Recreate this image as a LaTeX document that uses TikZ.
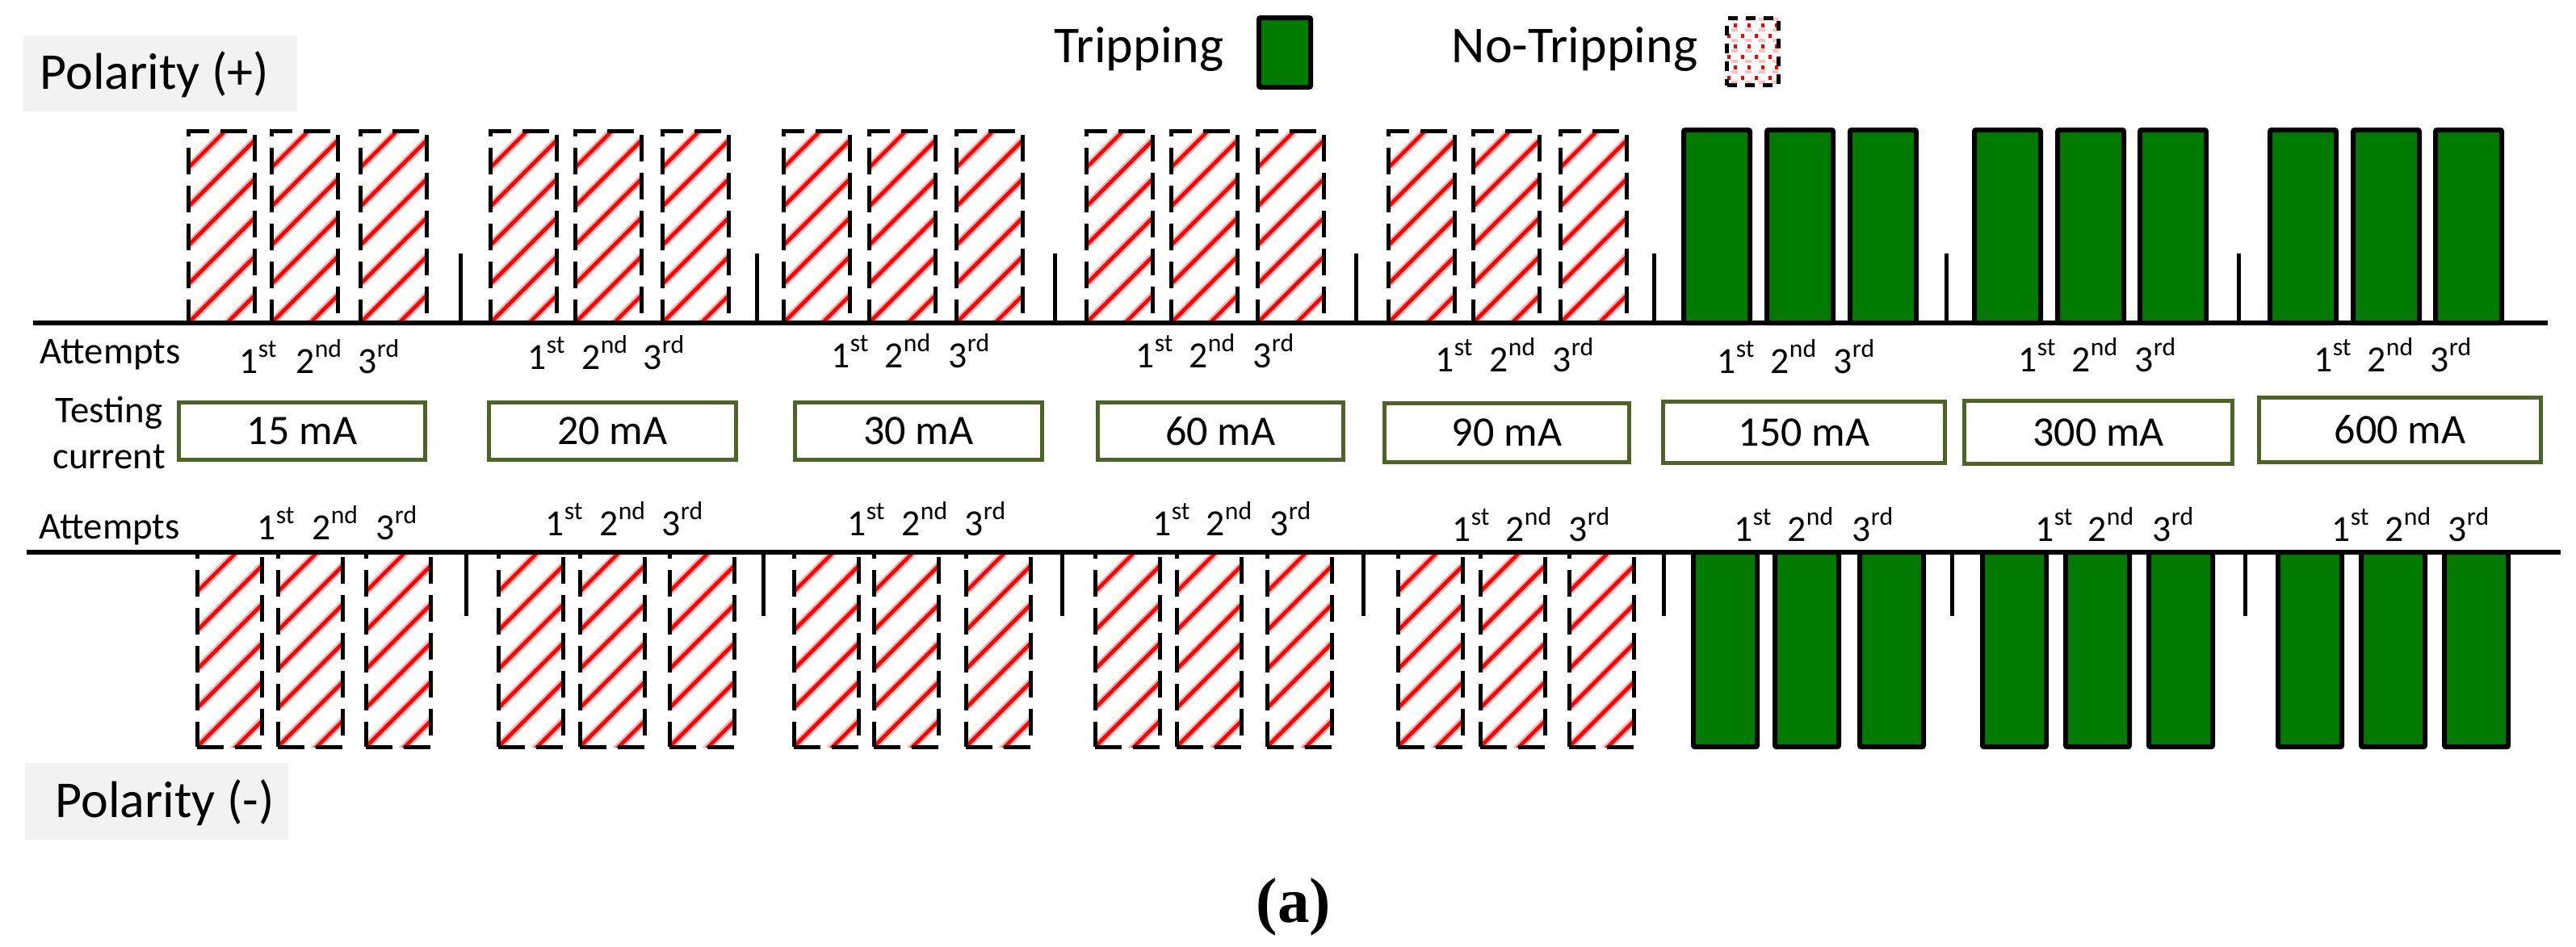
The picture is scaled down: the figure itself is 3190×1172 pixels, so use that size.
\documentclass[tikz,border=0pt]{standalone}
\usepackage{fontspec}
\setmainfont{Carlito}
\newfontfamily\capfont{Liberation Serif}
\definecolor{tripgreen}{RGB}{0,122,0}
\definecolor{boxolive}{RGB}{79,98,40}
\definecolor{labelgray}{RGB}{242,242,242}
\newcommand\ordsup[1]{\raisebox{0.42em}{\fontsize{9}{10}\selectfont #1}}
\tikzset{
  hatchbar/.style={anchor=north west, rectangle, inner sep=0pt, outer sep=0pt,
    fill=white, draw=black, line width=0.05cm, dash pattern=on 0.33cm off 0.14cm,
    path picture={\foreach \k in {-2,...,6}{
      \draw[red!28, solid, line width=0.095cm]
      ([yshift=\k*0.48cm]path picture bounding box.south west) -- ++(3cm,3cm);
      \draw[red, solid, line width=0.045cm]
      ([yshift=\k*0.48cm]path picture bounding box.south west) -- ++(3cm,3cm);}}},
  greenbar/.style={anchor=north west, rectangle, inner sep=0pt, outer sep=0pt,
    fill=tripgreen, draw=black, line width=0.06cm, rounded corners=0.02cm},
  curbox/.style={rectangle, draw=boxolive, line width=0.05cm, fill=white, inner sep=0pt,
    font=\fontsize{14.8}{17}\selectfont},
  ordlab/.style={anchor=base west, inner sep=0pt, font=\fontsize{13}{15}\selectfont},
  smalllab/.style={anchor=base west, inner sep=0pt, font=\fontsize{13.3}{16}\selectfont},
  biglab/.style={anchor=base west, inner sep=0pt, font=\fontsize{18.2}{22}\selectfont},
  axisline/.style={line width=0.06cm},
  tickline/.style={line width=0.05cm},
}
\begin{document}
\begin{tikzpicture}[x=0.01cm,y=-0.01cm]
\useasboundingbox (0,0) rectangle (3190,1172);
\fill[white] (0,0) rectangle (3190,1172);

% ---------- legend ----------
\node[biglab] (trip) at (1305,77) {Tripping};
\node[greenbar, minimum width=0.64cm, minimum height=0.86cm] (legtrip) at (1559,22) {};
\node[biglab] (notrip) at (1797,77) {No-Tripping};
\node[anchor=north west, rectangle, inner sep=0pt, fill=white, draw=black, line width=0.05cm,
  dash pattern=on 0.12cm off 0.1cm, minimum width=0.64cm, minimum height=0.83cm,
  path picture={
    \foreach \i in {0,...,3}{\foreach \j in {0,...,6}{
      \pgfmathsetmacro{\off}{mod(\j,2)*0.08}
      \fill[red!25] ([xshift=\i*0.17cm+0.05cm, yshift=\j*0.13cm+0.02cm]path picture bounding box.south west) rectangle ++(0.08cm,0.04cm);
      \fill[red] ([xshift=\i*0.17cm+\off cm, yshift=\j*0.13cm+0.07cm]path picture bounding box.south west) rectangle ++(0.045cm,0.045cm);
    }}}] (legnotrip) at (2136,20) {};

% ---------- polarity labels ----------
\fill[labelgray] (29,44) rectangle (368,138);
\node[biglab] (polplus) at (49,110) {Polarity (+)};
\fill[labelgray] (31,945) rectangle (357,1040);
\node[biglab] (polminus) at (68,1012) {Polarity (-)};

% ---------- top bars ----------
\foreach \g/\a/\b/\c in {1/233/336/446,2/607/712/820,3/970/1076/1184,4/1345/1450/1557,5/1719/1824/1932}{
  \node[hatchbar, minimum width=0.82cm, minimum height=2.38cm] (tp-\g-1) at (\a,162) {};
  \node[hatchbar, minimum width=0.82cm, minimum height=2.38cm] (tp-\g-2) at (\b,162) {};
  \node[hatchbar, minimum width=0.82cm, minimum height=2.38cm] (tp-\g-3) at (\c,162) {};
}
\foreach \g/\a/\b/\c in {6/2085/2188/2291,7/2445/2548/2650,8/2811/2914/3016}{
  \node[greenbar, minimum width=0.82cm, minimum height=2.39cm] (tp-\g-1) at (\a,161) {};
  \node[greenbar, minimum width=0.82cm, minimum height=2.39cm] (tp-\g-2) at (\b,161) {};
  \node[greenbar, minimum width=0.82cm, minimum height=2.39cm] (tp-\g-3) at (\c,161) {};
}
\foreach \t in {570,937,1306,1679,2048,2410,2772}{
  \draw[tickline] (\t,314) -- (\t,400);
}
\draw[axisline] (41,400) -- (3155,400);

% ---------- bottom bars ----------
\foreach \g/\a/\b/\c in {1/244/344/453,2/617/718/829,3/983/1082/1196,4/1356/1457/1569,5/1731/1833/1943}{
  \node[hatchbar, minimum width=0.80cm, minimum height=2.41cm] (bt-\g-1) at (\a,684) {};
  \node[hatchbar, minimum width=0.80cm, minimum height=2.41cm] (bt-\g-2) at (\b,684) {};
  \node[hatchbar, minimum width=0.80cm, minimum height=2.41cm] (bt-\g-3) at (\c,684) {};
}
\foreach \g/\a/\b/\c in {6/2097/2198/2303,7/2455/2558/2661,8/2821/2924/3027}{
  \node[greenbar, minimum width=0.79cm, minimum height=2.41cm] (bt-\g-1) at (\a,684) {};
  \node[greenbar, minimum width=0.79cm, minimum height=2.41cm] (bt-\g-2) at (\b,684) {};
  \node[greenbar, minimum width=0.79cm, minimum height=2.41cm] (bt-\g-3) at (\c,684) {};
}
\foreach \t in {577,945,1315,1688,2060,2417,2780}{
  \draw[tickline] (\t,684) -- (\t,763);
}
\draw[axisline] (33,684) -- (3171,684);

% ---------- attempts labels ----------
\node[smalllab] (atttop) at (49,450) {Attempts};
\node[smalllab] (attbot) at (48,667) {Attempts};
\foreach \g/\a/\b/\c/\y in {1/296/366/443/462,2/653/720/796/457,3/1029/1095/1174/455,4/1406/1472/1551/455,5/1777/1844/1922/460,6/2126/2192/2270/462,7/2499/2565/2643/460,8/2865/2931/3009/460}{
  \node[ordlab] (ot-\g-1) at (\a,\y) {1\ordsup{st}};
  \node[ordlab] (ot-\g-2) at (\b,\y) {2\ordsup{nd}};
  \node[ordlab] (ot-\g-3) at (\c,\y) {3\ordsup{rd}};
}
\foreach \g/\a/\b/\c/\y in {1/318/386/465/668,2/675/742/819/663,3/1049/1116/1194/663,4/1427/1493/1572/663,5/1798/1864/1942/670,6/2147/2213/2293/670,7/2520/2585/2665/670,8/2887/2953/3031/670}{
  \node[ordlab] (ob-\g-1) at (\a,\y) {1\ordsup{st}};
  \node[ordlab] (ob-\g-2) at (\b,\y) {2\ordsup{nd}};
  \node[ordlab] (ob-\g-3) at (\c,\y) {3\ordsup{rd}};
}

% ---------- testing current ----------
\node[anchor=base, inner sep=0pt, font=\fontsize{13.3}{16}\selectfont] (testing) at (135,523) {Testing};
\node[anchor=base, inner sep=0pt, font=\fontsize{13.3}{16}\selectfont] (current) at (135,580) {current};
\foreach \n/\cx/\cy/\w/\h/\t in {1/374/534/3.04/0.70/15 mA,2/758.5/534/3.05/0.70/20 mA,3/1137.5/534/3.05/0.70/30 mA,4/1511.5/534/3.03/0.70/60 mA,5/1866/536/3.02/0.73/90 mA,6/2234/535.5/3.48/0.75/150 mA,7/2598.5/535.5/3.31/0.77/300 mA,8/2972/532.5/3.48/0.79/600 mA}{
  \node[curbox, minimum width=\w cm, minimum height=\h cm] (cur-\n) at (\cx,\cy) {\t};
}

% ---------- caption ----------
\node[anchor=base, inner sep=0pt, font=\capfont\bfseries\fontsize{22.5}{26}\selectfont] (caption) at (1602,1142) {(a)};
\end{tikzpicture}
\end{document}
